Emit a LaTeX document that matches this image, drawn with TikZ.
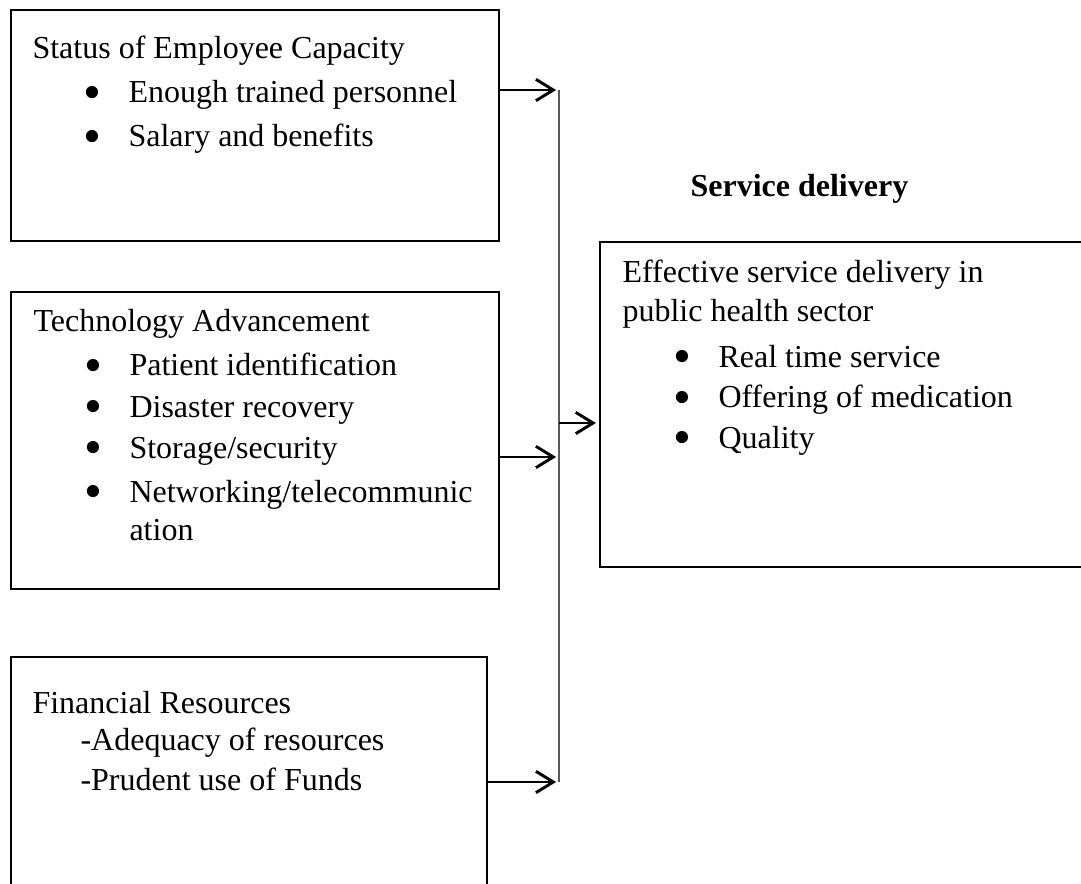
\documentclass[tikz,border=0pt]{standalone}
\usepackage{fontspec}
\setmainfont{Liberation Serif}
\usepackage{graphicx}
\usepackage{tikz}
\usetikzlibrary{arrows.meta,positioning,fit}
\definecolor{trunkgray}{HTML}{5A5A5A}
% bullet item: indent, bullet, then the text
\newcommand{\bdot}{\raisebox{-2.4pt}{\scalebox{1.6}{\textbullet}}}
\newcommand{\bul}[1]{\hspace*{19pt}\makebox[17pt][l]{\bdot}#1}
\tikzset{
  factorbox/.style={
    rectangle, draw=black, line width=0.9pt, inner sep=0pt
  },
  linetext/.style={
    anchor=base west, inner sep=0pt, font=\fontsize{12}{13.5}\selectfont
  },
  linkarrow/.style={-{Straight Barb[length=6.5pt,width=8pt]}, line width=1.1pt,
    shorten >=1.1pt},
  trunk/.style={draw=trunkgray, line width=0.8pt},
}

\begin{document}
\begin{tikzpicture}[x=0.375pt, y=-0.375pt]
  \useasboundingbox (0,0) rectangle (1081,884);
  \clip (0,0) rectangle (1081,884);

  % the three factor boxes on the left
  \node[factorbox, fit={(11,10) (499,241)}] (emp) {};
  \node[factorbox, fit={(11,292) (499,589)}] (tech) {};
  \node[factorbox, fit={(11,657) (487,910)}] (fin) {};
  % outcome box on the right
  \node[factorbox, fit={(600,242) (1110,567)}] (sd) {};

  % employee capacity
  \node[linetext] (emptitle) at (32,59) {Status of Employee Capacity};
  \node[linetext] (emp1) at (32,103) {\bul{Enough trained personnel}};
  \node[linetext] (emp2) at (32,147) {\bul{Salary and benefits}};

  % technology
  \node[linetext] (techtitle) at (33,332) {Technology Advancement};
  \node[linetext] (tech1) at (33,376) {\bul{Patient identification}};
  \node[linetext] (tech2) at (33,417) {\bul{Disaster recovery}};
  \node[linetext] (tech3) at (33,458) {\bul{Storage/security}};
  \node[linetext] (tech4) at (33,502) {\bul{Networking/telecommunic}};
  \node[linetext] (tech5) at (129,540) {ation};

  % finance
  \node[linetext] (fintitle) at (32,713) {Financial Resources};
  \node[linetext] (fin1) at (80,750) {-Adequacy of resources};
  \node[linetext] (fin2) at (80,790) {-Prudent use of Funds};

  % outcome
  \node[linetext, font=\fontsize{12}{13.5}\selectfont\bfseries] (sdtitle) at (690,197) {Service delivery};
  \node[linetext] (sdhead1) at (622,283) {Effective service delivery in};
  \node[linetext] (sdhead2) at (622,322) {public health sector};
  \node[linetext] (sd1) at (622,367) {\bul{Real time service}};
  \node[linetext] (sd2) at (622,408) {\bul{Offering of medication}};
  \node[linetext] (sd3) at (622,448) {\bul{Quality}};

  % vertical collector line and its joints
  \coordinate (top) at (559,90);
  \coordinate (bot) at (559,782);
  \coordinate (j2) at (559,457);
  \coordinate (mid) at (559,423);
  \draw[trunk] (top) -- (bot);

  \draw[linkarrow] (emp.east |- top) -- (top);
  \draw[linkarrow] (tech.east |- j2) -- (j2);
  \draw[linkarrow] (fin.east |- bot) -- (bot);
  \draw[linkarrow] (mid) -- (sd.west |- mid);
\end{tikzpicture}
\end{document}
